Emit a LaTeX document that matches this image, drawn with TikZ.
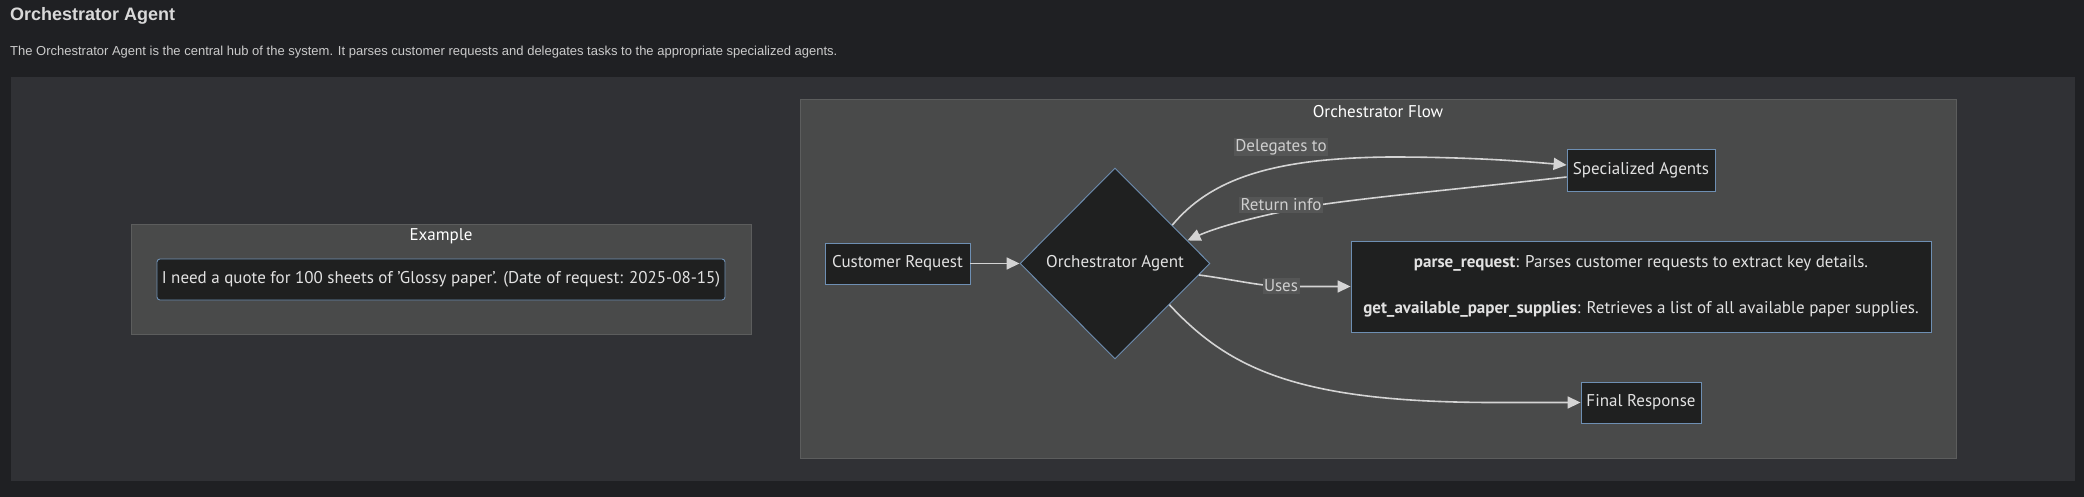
\documentclass[tikz,border=0pt]{standalone}
\usepackage{fontspec}
\setmainfont{PT Sans}
\newfontfamily\arialfont{Liberation Sans}
\usetikzlibrary{shapes.geometric,arrows.meta,calc}
\definecolor{pagebg}{HTML}{1F2023}
\definecolor{panelbg}{HTML}{303135}
\definecolor{clusterbg}{HTML}{494A4A}
\definecolor{clusterline}{HTML}{5C5D5D}
\definecolor{nodebg}{HTML}{1F2020}
\definecolor{nodeline}{HTML}{6E8FB3}
\definecolor{nodetext}{HTML}{E2E2E2}
\definecolor{edgecol}{HTML}{D4D4D4}
\definecolor{lblbg}{HTML}{555656}
\definecolor{lbltext}{HTML}{CFCFCF}
\definecolor{titlecol}{HTML}{D9D9D9}
\definecolor{desccol}{HTML}{CBCBCB}
\tikzset{
  nfont/.style={font=\fontsize{17}{20}\selectfont},
  box/.style={nfont, draw=nodeline, line width=0.9pt, fill=nodebg, text=nodetext, inner sep=0pt, align=center},
  cluster/.style={draw=clusterline, line width=1pt, fill=clusterbg},
  clusterlabel/.style={nfont, text=white, inner sep=0pt},
  edge/.style={draw=edgecol, line width=1.6pt, -{Triangle[length=13pt,width=12pt]}},
  elabel/.style={nfont, fill=lblbg, text=lbltext, inner sep=1.5pt}
}
\begin{document}
\begin{tikzpicture}[x=1pt,y=-1pt]
\fill[pagebg] (0,0) rectangle (2084,497);
\useasboundingbox (0,0) rectangle (2084,497);
\node[anchor=west, inner sep=0pt, text=titlecol, font=\arialfont\bfseries\fontsize{18}{21}\selectfont] (title) at (10,16) {Orchestrator Agent};
\node[anchor=west, inner sep=0pt, text=desccol, font=\arialfont\fontsize{13}{15}\selectfont] (desc) at (10,52.5) {The Orchestrator Agent is the central hub of the system. It parses customer requests and delegates tasks to the appropriate specialized agents.};
\fill[panelbg] (11,77) rectangle (2075,481);
% Example cluster
\draw[cluster] (131,224) rectangle (751,334);
\node[clusterlabel] (exlabel) at (441,236) {Example};
\node[box, rounded corners=3pt, minimum width=568pt, minimum height=41pt] (ex) at (441,279.5) {I need a quote for 100 sheets of 'Glossy paper'. (Date of request: 2025-08-15)};
% Flow cluster
\draw[cluster] (800,100) rectangle (1956,458);
\node[clusterlabel] (flowlabel) at (1378,112) {Orchestrator Flow};
\node[box, minimum width=145pt, minimum height=41pt] (CR) at (897.5,263.5) {Customer Request};
\node[box, diamond, minimum width=190pt, minimum height=191pt] (OA) at (1115,263.5) {Orchestrator Agent};
\node[box, minimum width=148pt, minimum height=42pt] (SA) at (1641,170) {Specialized Agents};
\node[box, minimum width=580pt, minimum height=91pt] (tools) at (1641,286.5) {\textbf{parse\_request}: Parses customer requests to extract key details.\\[26pt]\textbf{get\_available\_paper\_supplies}: Retrieves a list of all available paper supplies.};
\node[box, minimum width=120pt, minimum height=41pt] (FR) at (1641,402.5) {Final Response};
% edges
\draw[edge] (CR.east) -- (OA.west);
\draw[edge] ($(OA.north)!0.6!(OA.east)$) .. controls (1210,180) and (1270,158) .. (1390,157) .. controls (1470,157) and (1520,161) .. ([yshift=5pt]SA.west);
\draw[edge] ([yshift=-7pt]SA.west) .. controls (1450,190) and (1340,200) .. (1295,209) .. controls (1250,218) and (1215,228) .. ($(OA.north)!0.76!(OA.east)$);
\draw[edge] ($(OA.east)!0.12!(OA.south)$) .. controls (1230,279) and (1260,286) .. (1282,286.5) -- (tools.west);
\draw[edge] ($(OA.east)!0.43!(OA.south)$) .. controls (1230,370) and (1300,403) .. (1500,402.5) -- (FR.west);
% edge labels
\node[elabel] (l1) at (1281,147) {Delegates to};
\node[elabel] (l2) at (1281,205) {Return info};
\node[elabel] (l3) at (1281,286) {Uses};
\end{tikzpicture}
\end{document}
